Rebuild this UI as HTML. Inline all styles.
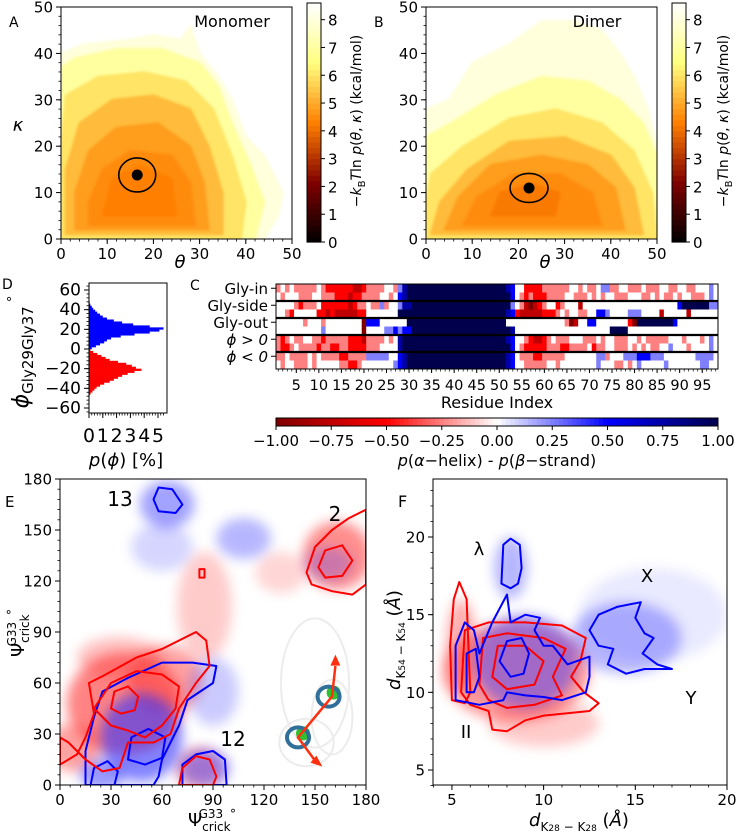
<!DOCTYPE html>
<html><head><meta charset="utf-8">
<style>
html,body{margin:0;padding:0;background:#fff;}
svg{display:block;font-family:"DejaVu Sans","Liberation Sans",sans-serif;}
</style></head>
<body>
<svg id="fig" width="739" height="833" viewBox="0 0 739 833" xmlns="http://www.w3.org/2000/svg">
<defs>
<filter id="blur6" x="-50%" y="-50%" width="200%" height="200%"><feGaussianBlur stdDeviation="6"/></filter>
<filter id="blur3" x="-50%" y="-50%" width="200%" height="200%"><feGaussianBlur stdDeviation="3"/></filter>
<filter id="blur1" x="-50%" y="-50%" width="200%" height="200%"><feGaussianBlur stdDeviation="1.2"/></filter>
<clipPath id="clipA"><rect x="61" y="7" width="231" height="232"/></clipPath>
<clipPath id="clipB"><rect x="426" y="7" width="231" height="232"/></clipPath>
<clipPath id="clipE"><rect x="60" y="479" width="306" height="306"/></clipPath>
<clipPath id="clipF"><rect x="433" y="479" width="294" height="306"/></clipPath>
</defs>
</svg>
<script>
// ---------- DATA ----------
const monoLevels=[8.0,7.0,6.0,5.3,4.8,4.5,4.3];
const monoPolys=[
 [[0,0],[44,0],[47,5],[48,10],[44,18],[40,22],[37,30],[34,35],[30,40],[28,46],[26,43],[20,44],[15,43],[5,42],[0,40]],
 [[0,0],[42,0],[44,8],[41,16],[37,25],[34,33],[30,38],[22,41],[12,41],[3,39],[0,37]],
 [[0,0],[39,0],[40,8],[37,18],[33,28],[27,34],[18,36],[8,35],[1,31],[0,20]],
 [[1,1],[35,1],[35,10],[32,20],[28,28],[20,31],[11,30],[4,25],[1,15]],
 [[3,2],[32,2],[31,12],[28,20],[21,25],[12,24],[6,19],[3,10]],
 [[6,3],[29,3],[28,12],[24,18],[15,19],[9,15],[6,8]],
 [[9,5],[25,5],[24,13],[17,16],[11,13]]
];
const monoMin=[16.5,13.8];
const dimLevels=[8.0,7.0,6.0,5.3,4.8,4.5,4.2];
const dimPolys=[
 [[0,0],[50,0],[50,20],[48,28],[45,35],[42,40],[38,45],[32,47],[25,47],[18,42],[10,38],[5,30],[0,28]],
 [[0,0],[50,0],[50,18],[47,25],[42,30],[35,34],[25,35],[15,31],[7,26],[0,22]],
 [[0,0],[50,0],[49,10],[45,19],[38,25],[28,28],[18,26],[8,20],[1,14],[0,8]],
 [[1,1],[47,1],[45,11],[40,18],[30,22],[18,21],[9,15],[3,8]],
 [[4,2],[43,2],[41,11],[35,16],[25,18],[14,16],[7,9]],
 [[8,3],[38,3],[36,10],[29,14],[19,14],[11,9]],
 [[14,5],[28,5],[29,10],[23,12],[16,10]]
];
const dimMin=[22.3,11.0];
const cbarTicks=[0,1,2,3,4,5,6,7,8];
const phiBlue=[1,3,5,7,9,11,13,15,17,19,21,23,25,27,29,31,33,35,37,39,41,43,45,47];
const pBlue=[0.2,0.5,0.8,1.1,1.3,1.6,2.3,3.3,4.4,5.1,5.4,4.4,3.2,2.4,1.8,1.3,1.0,0.8,0.6,0.45,0.3,0.2,0.1,0.05];
const phiRed=[-1,-3,-5,-7,-9,-11,-13,-15,-17,-19,-21,-23,-25,-27,-29,-31,-33,-35,-37,-39,-41,-43,-45,-47];
const pRed=[0.1,0.3,0.6,0.9,1.2,1.5,2.1,2.7,3.1,3.4,3.8,3.3,2.8,2.4,2.1,1.8,1.5,1.1,0.8,0.55,0.4,0.25,0.12,0.05];
const dYTicks=[-60,-40,-20,0,20,40,60];
const dXTicks=[0,1,2,3,4,5];
const cRowLabels=["Gly-in","Gly-side","Gly-out","\u03D5 > 0","\u03D5 < 0"];
const cRows=[
 "343433333432222221123333443"+"57"+"8888888888888888888888"+"76"+"442222333333443433455334433343334433443344454",
 "434443334433322212233334434"+"67"+"8888888888888888888888"+"86"+"432322233334433343434433344433434334344333454",
 "444432333422222212334335344"+"577"+"8888888888888888888888"+"5"+"431012344234441444444444444444444444688888855",
 "443244444221211111224444444"+"88"+"8888888888888888888888"+"76"+"211111222343443344665444455544441444441444444",
 "444444344434444444406664444"+"44"+"8888888888888888888888"+"44"+"444444444443014466444444420888888886444444444",
 "444444444454444444404444556"+"566"+"8888888888888888888888"+"7"+"444444444444444444444888844444444444444444444",
 "323433443323333322213333434"+"78"+"8888888888888888888888"+"76"+"443211234333444333434433344343333344434443454",
 "322343333233223322223334444"+"78"+"8888888888888888888888"+"86"+"432222233322333342334433343434334454443444454",
 "334333343433332233335555544"+"67"+"8888888888888888888888"+"76"+"433322333334444444553444555666555444444455554",
 "434433343444443322344444445"+"67"+"8888888888888888888888"+"76"+"443333344344444444544433434544444544444445544"
];
const cXTicks=[5,10,15,20,25,30,35,40,45,50,55,60,65,70,75,80,85,90,95];
const cCbTicks=[-1,-0.75,-0.5,-0.25,0,0.25,0.5,0.75,1];
const eRed=[
 [[0,12],[10,18],[15,28],[20,42],[17,60],[25,64],[45,75],[60,80],[70,85],[80,90],[86,85],[88,70],[80,60],[70,45],[65,30],[55,25],[40,25],[35,10],[25,8],[15,15],[5,25],[0,28]],
 [[20,45],[30,60],[45,67],[60,65],[70,58],[68,45],[60,35],[50,28],[40,32],[30,35]],
 [[30,45],[32,55],[40,58],[46,52],[44,44],[36,42]],
 [[70,0],[72,10],[80,17],[88,15],[92,5],[90,0]],
 [[145,125],[150,140],[160,150],[170,157],[180,162],[180,118],[172,112],[160,114],[148,118]],
 [[152,128],[156,138],[166,141],[172,132],[166,123],[156,122]],
 [[82,122],[82,127],[85,127],[85,122]]
];
const eBlue=[
 [[15,0],[15,20],[20,40],[25,55],[40,63],[60,72],[78,72],[92,70],[90,60],[75,50],[70,35],[65,25],[60,15],[58,5],[55,0]],
 [[40,15],[42,28],[52,33],[62,28],[60,16],[50,12]],
 [[18,0],[20,10],[28,14],[34,8],[32,0]],
 [[55,168],[58,175],[66,174],[72,165],[68,160],[58,161]],
 [[72,0],[72,12],[80,18],[90,20],[97,15],[98,0]]
];
const eRedClouds=[[38,48,34,30,0.6],[62,62,22,20,0.45],[8,22,16,14,0.45],[163,135,20,20,0.55],[85,105,16,32,0.25],[82,10,14,12,0.4],[35,75,25,12,0.3],[130,125,15,12,0.2]];
const eBlueClouds=[[48,28,24,26,0.6],[63,165,16,14,0.45],[108,145,16,12,0.35],[158,130,14,10,0.25],[85,10,15,11,0.45],[25,6,13,9,0.5],[90,55,15,20,0.25],[60,140,18,14,0.2]];
const eTicks=[0,30,60,90,120,150,180];
const fRed=[
 [[5.0,9.5],[4.9,13],[5.1,16],[5.4,17.1],[5.8,16],[5.9,13],[6.0,10],[5.7,9.3]],
 [[5.5,10],[5.7,14],[7,14.5],[9,14.5],[11,14.3],[12.3,13.5],[12,12],[11.5,11],[12.2,10],[13,9.3],[12.5,8.8],[10,8.5],[9,8.2],[8,7.5],[7.2,7.6],[7,8.8],[6,9.2]],
 [[6.5,10.5],[6.7,13.5],[8,13.8],[10,13.5],[11.2,12.8],[10.5,11],[11,9.8],[9.5,9.2],[8,9],[7,9.5]],
 [[7.2,11],[7.5,13],[9,13],[10,12],[9.5,10.5],[8,10.2]]
];
const fBlue=[
 [[7.7,17],[7.8,19.5],[8.2,19.9],[8.7,19.5],[8.8,18],[8.6,17],[8.2,16.7]],
 [[5.2,9.5],[5.2,13],[5.7,14.5],[6.2,14],[6.5,12.5],[7.2,14.5],[8.0,16.3],[8.2,14.5],[9,15],[9.8,14.8],[9.5,14],[10,13],[10.5,13],[11.3,11.8],[12.5,12.3],[12.5,11],[12.3,10],[11,9.5],[10,9.7],[9,9.8],[8,10],[7.8,9.5],[6.5,9.2]],
 [[7.6,12],[8,13.3],[8.8,13.5],[9.2,12.5],[8.9,11.2],[8.2,11]],
 [[12.5,14],[13,15],[14,15.5],[15.3,15.8],[15,14.8],[15.5,13.8],[16,13.5],[15.4,12.5],[16.2,11.8],[17,11.5],[15.5,11.5],[14.5,11.2],[13.5,11.8],[13.8,12.8],[13,13]],
 [[5.8,10],[5.8,12.5],[6.3,12.8],[6.5,11],[6.2,10]]
];
const fRedClouds=[[8.5,11.3,4,3.2,0.5],[5.5,13,0.8,3,0.4],[10,8,3,1.5,0.25]];
const fBlueClouds=[[9,12,2.8,3,0.45],[14.5,13.5,3,2.3,0.35],[8.2,18,0.9,2,0.35],[16,15,4,3,0.1]];
const fXTicks=[5,10,15,20];
const fYTicks=[5,10,15,20];

// ---------- HELPERS ----------
const NS='http://www.w3.org/2000/svg';
const svg=document.getElementById('fig');
function mk(tag,parent,name){
  const e=document.createElementNS(NS,tag);
  
  
  (parent||svg).appendChild(e);
  return e;
}
function lin(d0,d1,p0,p1){return v=>p0+(v-d0)/(d1-d0)*(p1-p0);}
function clip01(v){return Math.max(0,Math.min(1,v));}
function afmhot(t){t=clip01(t);const r=clip01(2*t),g=clip01(2*t-0.5),b=clip01(2*t-1);return `rgb(${Math.round(r*255)},${Math.round(g*255)},${Math.round(b*255)})`;}
function seismicR(v){
  const t=clip01((v+1)/2);let r,g,b;
  if(t<0.25){const s=t/0.25;r=0.5+0.5*s;g=0;b=0;}
  else if(t<0.5){const s=(t-0.25)/0.25;r=1;g=s;b=s;}
  else if(t<0.75){const s=(t-0.5)/0.25;r=1-s;g=1-s;b=1;}
  else{const s=(t-0.75)/0.25;r=0;g=0;b=1-0.7*s;}
  return `rgb(${Math.round(r*255)},${Math.round(g*255)},${Math.round(b*255)})`;
}
function text(parent,name,x,y,str,size,anchor,extra){
  const t=mk('text',parent,name);
  t.setAttribute('x',x);t.setAttribute('y',y);
  t.setAttribute('font-size',size);
  t.setAttribute('text-anchor',anchor||'middle');
  if(extra)for(const k in extra)t.setAttribute(k,extra[k]);
  t.textContent=str;return t;
}
function line(parent,name,x1,y1,x2,y2,w,col){
  const l=mk('line',parent,name);
  l.setAttribute('x1',x1);l.setAttribute('y1',y1);l.setAttribute('x2',x2);l.setAttribute('y2',y2);
  l.setAttribute('stroke',col||'#000');l.setAttribute('stroke-width',w||1);return l;
}
function frame(parent,name,x,y,w,h){
  const r=mk('rect',parent,name);
  r.setAttribute('x',x);r.setAttribute('y',y);r.setAttribute('width',w);r.setAttribute('height',h);
  r.setAttribute('fill','none');r.setAttribute('stroke','#000');r.setAttribute('stroke-width',1);return r;
}
function polyPts(poly,sx,sy){return poly.map(p=>sx(p[0]).toFixed(1)+','+sy(p[1]).toFixed(1)).join(' ');}
function xTicks(g,sx,yb,majors,minStep,d0,d1,fs){
  for(let v=d0;v<=d1+1e-9;v+=minStep){line(g,'x-minor-tick',sx(v),yb,sx(v),yb+2.5,0.8);}
  majors.forEach(v=>{line(g,'x-major-tick',sx(v),yb,sx(v),yb+5,1);text(g,'x-tick-label',sx(v),yb+20,String(v),fs||15);});
}
function yTicks(g,sy,xl,majors,minStep,d0,d1,fs,fmt){
  for(let v=d0;v<=d1+1e-9;v+=minStep){line(g,'y-minor-tick',xl,sy(v),xl-2.5,sy(v),0.8);}
  majors.forEach(v=>{line(g,'y-major-tick',xl,sy(v),xl-5,sy(v),1);text(g,'y-tick-label',xl-8,sy(v)+5.5,fmt?fmt(v):String(v).replace('-','\u2212'),fs||15,'end');});
}

// ---------- PANELS A & B ----------
function fePanel(pname,x0,label,title,levels,polys,minPt,rx,ry,cbx,cbLabelX,clip){
  const g=mk('g',null,pname);
  const sx=lin(0,50,x0,x0+231), sy=lin(0,50,239,7);
  const cg=mk('g',g,'free-energy-map');
  cg.setAttribute('clip-path',`url(#${clip})`);
  polys.forEach((p,i)=>{const pl=mk('polygon',cg,'energy-level-'+levels[i]);pl.setAttribute('points',polyPts(p,sx,sy));pl.setAttribute('fill',afmhot(levels[i]/8.6));
    pl.setAttribute('stroke',afmhot(levels[i]/8.6));pl.setAttribute('stroke-width',1.5);pl.setAttribute('stroke-linejoin','round');pl.setAttribute('filter','url(#blur1)');});
  const el=mk('ellipse',g,'minimum-ring');el.setAttribute('cx',sx(minPt[0]));el.setAttribute('cy',sy(minPt[1]));el.setAttribute('rx',rx);el.setAttribute('ry',ry);el.setAttribute('fill','none');el.setAttribute('stroke','#000');el.setAttribute('stroke-width',1.6);
  const dt=mk('circle',g,'minimum-dot');dt.setAttribute('cx',sx(minPt[0]));dt.setAttribute('cy',sy(minPt[1]));dt.setAttribute('r',5.5);dt.setAttribute('fill','#000');
  frame(g,'plot-frame',x0,7,231,232);
  xTicks(g,sx,239,[0,10,20,30,40,50],2,0,50);
  yTicks(g,sy,x0,[0,10,20,30,40,50],2,0,50);
  text(g,'panel-label',x0-52,27,label,14,'start');
  text(g,'panel-title',x0+171,27,title,16);
  text(g,'x-axis-title',x0+119,268,'\u03B8',18,'middle',{'font-style':'italic'});
  const cb=mk('g',g,'colorbar');
  const cy=lin(0,8.6,242,3);
  const n=43;
  for(let i=0;i<n;i++){const v0=i*8.6/n,v1=(i+1)*8.6/n;const r=mk('rect',cb,'colorbar-step');r.setAttribute('x',cbx);r.setAttribute('y',cy(v1));r.setAttribute('width',14);r.setAttribute('height',cy(v0)-cy(v1)+0.6);r.setAttribute('fill',afmhot((v0+v1)/2/8.6));}
  frame(cb,'colorbar-frame',cbx,3,14,239);
  cbarTicks.forEach(v=>{line(cb,'colorbar-tick',cbx+14,cy(v),cbx+18,cy(v),1);text(cb,'colorbar-tick-label',cbx+21,cy(v)+6,String(v),15,'start');});
  const t=text(cb,'colorbar-title',0,0,'',14,'middle',{transform:`translate(${cbLabelX},121) rotate(-90)`});
  t.innerHTML='\u2212<tspan font-style="italic">k</tspan><tspan font-size="10" dy="4">B</tspan><tspan dy="-4" font-style="italic">T</tspan>ln<tspan font-style="italic"> p</tspan>(<tspan font-style="italic">\u03B8</tspan>, <tspan font-style="italic">\u03BA</tspan>) (kcal/mol)';
  return g;
}
fePanel('panel-a-monomer',61,'A','Monomer',monoLevels,monoPolys,monoMin,18.5,17,307,361,'clipA');
fePanel('panel-b-dimer',426,'B','Dimer',dimLevels,dimPolys,dimMin,19,14.5,672,728,'clipB');
text(svg,'y-axis-title-kappa',18,131,'\u03BA',18,'middle',{'font-style':'italic'});

// ---------- PANEL D ----------
(function(){
  const g=mk('g',null,'panel-d-phi-histogram');
  const sx=lin(0,5,89,158), sy=lin(-60,60,408,290);
  const bw=2;
  phiBlue.forEach((c,i)=>{const r=mk('rect',g,'hist-bar-positive');r.setAttribute('x',sx(0));r.setAttribute('y',sy(c+bw/2));r.setAttribute('width',sx(pBlue[i])-sx(0));r.setAttribute('height',sy(c-bw/2)-sy(c+bw/2)+0.3);r.setAttribute('fill','#0000ff');});
  phiRed.forEach((c,i)=>{const r=mk('rect',g,'hist-bar-negative');r.setAttribute('x',sx(0));r.setAttribute('y',sy(c+bw/2));r.setAttribute('width',sx(pRed[i])-sx(0));r.setAttribute('height',sy(c-bw/2)-sy(c+bw/2)+0.3);r.setAttribute('fill','#ff0000');});
  frame(g,'plot-frame',89,283,78,130);
  for(let v=0;v<=5.6;v+=0.2){line(g,'x-minor-tick',sx(v),413,sx(v),415.5,0.8);}
  dXTicks.forEach(v=>{line(g,'x-major-tick',sx(v),413,sx(v),418,1);text(g,'x-tick-label',sx(v),442,String(v),19,'middle',{'textLength':'12','lengthAdjust':'spacingAndGlyphs'});});
  yTicks(g,sy,89,dYTicks,4,-64,64,17);
  text(g,'panel-label',2,289,'D',14,'start');
  const yl=text(g,'y-axis-title',0,0,'',18,'middle',{transform:'translate(28,352) rotate(-90)'});
  yl.innerHTML='<tspan font-style="italic" font-size="22">\u03D5</tspan><tspan font-size="15" dy="5">Gly29Gly37</tspan><tspan font-size="13" dy="-16"> \u00B0</tspan>';
  const xl=text(g,'x-axis-title',126,466,'',18);
  xl.innerHTML='<tspan font-style="italic">p</tspan>(<tspan font-style="italic">\u03D5</tspan>) [%]';
})();

// ---------- PANEL C ----------
(function(){
  const g=mk('g',null,'panel-c-secondary-structure');
  const x0=276,x1=718,y0=284,y1=369;
  const cw=(x1-x0)/98, rh=(y1-y0)/10;
  const hg=mk('g',g,'heatmap');
  cRows.forEach((row,ri)=>{
    for(let ci=0;ci<row.length&&ci<98;ci++){
      const v=(parseInt(row[ci])-4)/4;
      const r=mk('rect',hg,'heatmap-cell');
      r.setAttribute('x',(x0+ci*cw).toFixed(2));r.setAttribute('y',(y0+ri*rh).toFixed(2));
      r.setAttribute('width',(cw+0.4).toFixed(2));r.setAttribute('height',(rh+0.4).toFixed(2));
      r.setAttribute('fill',seismicR(v));
    }
  });
  for(let k=1;k<5;k++){line(g,'band-separator',x0,y0+k*2*rh,x1,y0+k*2*rh,2.2);}
  frame(g,'plot-frame',x0,y0,x1-x0,y1-y0);
  cRowLabels.forEach((s,k)=>{const yy=y0+(2*k+0.5)*rh;line(g,'y-tick',x0,yy,x0-5,yy,1);
    const t=text(g,'row-label',x0-8,yy+5.5,s,15,'end');if(k>=3)t.setAttribute('font-style','italic');});
  for(let r=1;r<=98;r++){line(g,'x-minor-tick',x0+(r-0.5)*cw,y1,x0+(r-0.5)*cw,y1+2.5,0.7);}
  cXTicks.forEach(v=>{const xx=x0+(v-0.5)*cw;line(g,'x-major-tick',xx,y1,xx,y1+4,1);text(g,'x-tick-label',xx,y1+21,String(v),14.5);});
  text(g,'x-axis-title',497,408,'Residue Index',16);
  text(g,'panel-label',190,290,'C',14,'start');
  const cb=mk('g',g,'colorbar');
  const sx=lin(-1,1,x0,x1);
  for(let i=0;i<100;i++){const v0=-1+i*0.02;const r=mk('rect',cb,'colorbar-step');r.setAttribute('x',sx(v0));r.setAttribute('y',418);r.setAttribute('width',(sx(v0+0.02)-sx(v0)+0.5).toFixed(2));r.setAttribute('height',8);r.setAttribute('fill',seismicR(v0+0.01));}
  frame(cb,'colorbar-frame',x0,418,x1-x0,8);
  cCbTicks.forEach(v=>{line(cb,'colorbar-tick',sx(v),426,sx(v),430,1);text(cb,'colorbar-tick-label',sx(v),446,v.toFixed(2).replace('-','\u2212'),15);});
  const ct=text(cb,'colorbar-title',497,466,'',16);
  ct.innerHTML='<tspan font-style="italic">p</tspan>(<tspan font-style="italic">\u03B1</tspan>\u2212helix) - <tspan font-style="italic">p</tspan>(<tspan font-style="italic">\u03B2</tspan>\u2212strand)';
})();

// ---------- PANEL E ----------
(function(){
  const g=mk('g',null,'panel-e-crick-angles');
  const sx=lin(0,180,60,366), sy=lin(0,180,785,479);
  const pg=mk('g',g,'plot-area');pg.setAttribute('clip-path','url(#clipE)');
  const ins=mk('g',pg,'structure-inset');
  [[150,60,20,38],[160,40,12,22],[145,25,16,14]].forEach(c=>{const e=mk('ellipse',ins,'ribbon-shadow');e.setAttribute('cx',sx(c[0]));e.setAttribute('cy',sy(c[1]));e.setAttribute('rx',c[2]*1.7);e.setAttribute('ry',c[3]*1.7);e.setAttribute('fill','none');e.setAttribute('stroke','#ececec');e.setAttribute('stroke-width',2);});
  eRedClouds.forEach(c=>{const e=mk('ellipse',pg,'scatter-cloud-red');e.setAttribute('cx',sx(c[0]));e.setAttribute('cy',sy(c[1]));e.setAttribute('rx',c[2]*1.7);e.setAttribute('ry',c[3]*1.7);e.setAttribute('fill','#ff3030');e.setAttribute('opacity',c[4]);e.setAttribute('filter','url(#blur6)');});
  eBlueClouds.forEach(c=>{const e=mk('ellipse',pg,'scatter-cloud-blue');e.setAttribute('cx',sx(c[0]));e.setAttribute('cy',sy(c[1]));e.setAttribute('rx',c[2]*1.7);e.setAttribute('ry',c[3]*1.7);e.setAttribute('fill','#3030ff');e.setAttribute('opacity',c[4]);e.setAttribute('filter','url(#blur6)');});
  eBlue.forEach(p=>{const pl=mk('polygon',pg,'contour-blue');pl.setAttribute('points',polyPts(p,sx,sy));pl.setAttribute('fill','none');pl.setAttribute('stroke','#0000ff');pl.setAttribute('stroke-width',2);pl.setAttribute('stroke-linejoin','round');});
  eRed.forEach(p=>{const pl=mk('polygon',pg,'contour-red');pl.setAttribute('points',polyPts(p,sx,sy));pl.setAttribute('fill','none');pl.setAttribute('stroke','#ff0000');pl.setAttribute('stroke-width',2);pl.setAttribute('stroke-linejoin','round');});
  [[158,52],[140,28]].forEach(c=>{const b=mk('circle',pg,'bead');b.setAttribute('cx',sx(c[0])+5);b.setAttribute('cy',sy(c[1])-4);b.setAttribute('r',7);b.setAttribute('fill','#30c030');
    const r=mk('ellipse',pg,'helix-ring');r.setAttribute('cx',sx(c[0]));r.setAttribute('cy',sy(c[1]));r.setAttribute('rx',11);r.setAttribute('ry',10);r.setAttribute('fill','none');r.setAttribute('stroke','#2f6f9a');r.setAttribute('stroke-width',4);});
  const arr=mk('polyline',pg,'crick-vector');arr.setAttribute('points',`${sx(151)},${sy(13)} ${sx(140)},${sy(28)} ${sx(160)},${sy(52)} ${sx(162)},${sy(70)}`);arr.setAttribute('fill','none');arr.setAttribute('stroke','#ff3010');arr.setAttribute('stroke-width',2.5);
  [[162,72,0],[152,12,1]].forEach(a=>{const p=mk('polygon',pg,'arrow-head');const X=sx(a[0]),Y=sy(a[1]);p.setAttribute('points',a[2]?`${X+4},${Y+2} ${X-8},${Y-2} ${X-2},${Y-9}`:`${X},${Y-8} ${X-5},${Y+3} ${X+5},${Y+3}`);p.setAttribute('fill','#ff3010');});
  frame(g,'plot-frame',60,479,306,306);
  xTicks(g,sx,785,eTicks,6,0,180,15);
  yTicks(g,sy,60,eTicks,6,0,180,15);
  text(g,'cluster-label-13',120,506,'13',20);
  text(g,'cluster-label-2',335,521,'2',20);
  text(g,'cluster-label-12',233,746,'12',20);
  text(g,'panel-label',5,507,'E',15,'start');
  const yl=text(g,'y-axis-title',0,0,'',18,'middle',{transform:'translate(24,633) rotate(-90)'});
  yl.innerHTML='\u03A8<tspan font-size="12" dy="5">crick</tspan><tspan font-size="12" dx="-32" dy="-13">G33</tspan><tspan font-size="12" dx="3"> \u00B0</tspan>';
  const xl=text(g,'x-axis-title',212,826,'',18);
  xl.innerHTML='\u03A8<tspan font-size="12" dy="5">crick</tspan><tspan font-size="12" dx="-32" dy="-13">G33</tspan><tspan font-size="12" dx="3"> \u00B0</tspan>';
})();

// ---------- PANEL F ----------
(function(){
  const g=mk('g',null,'panel-f-lysine-distances');
  const sx=lin(4,20,433.6,727), sy=lin(5,20,770,537);
  const pg=mk('g',g,'plot-area');pg.setAttribute('clip-path','url(#clipF)');
  fRedClouds.forEach(c=>{const e=mk('ellipse',pg,'scatter-cloud-red');e.setAttribute('cx',sx(c[0]));e.setAttribute('cy',sy(c[1]));e.setAttribute('rx',c[2]*18.4);e.setAttribute('ry',c[3]*15.5);e.setAttribute('fill','#ff3030');e.setAttribute('opacity',c[4]);e.setAttribute('filter','url(#blur6)');});
  fBlueClouds.forEach(c=>{const e=mk('ellipse',pg,'scatter-cloud-blue');e.setAttribute('cx',sx(c[0]));e.setAttribute('cy',sy(c[1]));e.setAttribute('rx',c[2]*18.4);e.setAttribute('ry',c[3]*15.5);e.setAttribute('fill','#3030ff');e.setAttribute('opacity',c[4]);e.setAttribute('filter','url(#blur6)');});
  fRed.forEach(p=>{const pl=mk('polygon',pg,'contour-red');pl.setAttribute('points',polyPts(p,sx,sy));pl.setAttribute('fill','none');pl.setAttribute('stroke','#ff0000');pl.setAttribute('stroke-width',2);pl.setAttribute('stroke-linejoin','round');});
  fBlue.forEach(p=>{const pl=mk('polygon',pg,'contour-blue');pl.setAttribute('points',polyPts(p,sx,sy));pl.setAttribute('fill','none');pl.setAttribute('stroke','#0000ff');pl.setAttribute('stroke-width',2);pl.setAttribute('stroke-linejoin','round');});
  frame(g,'plot-frame',433,479,294,306);
  xTicks(g,sx,785,fXTicks,1,4,20,15);
  yTicks(g,sy,433,fYTicks,1,4,23,15);
  text(g,'panel-label',398,507,'F',16,'start');
  text(g,'state-label-lambda',479,555,'\u03BB',18);
  text(g,'state-label-x',647,582,'X',18);
  text(g,'state-label-y',691,704,'Y',18);
  text(g,'state-label-ii',466,738,'II',18);
  const yl=text(g,'y-axis-title',0,0,'',18,'middle',{transform:'translate(400,640) rotate(-90)'});
  yl.innerHTML='<tspan font-style="italic">d</tspan><tspan font-size="12" dy="5">K<tspan font-size="9">54</tspan> \u2212 K<tspan font-size="9">54</tspan></tspan><tspan dy="-5"> (<tspan font-style="italic">\u00C5</tspan>)</tspan>';
  const xl=text(g,'x-axis-title',579,826,'',18);
  xl.innerHTML='<tspan font-style="italic">d</tspan><tspan font-size="12" dy="5">K<tspan font-size="9">28</tspan> \u2212 K<tspan font-size="9">28</tspan></tspan><tspan dy="-5"> (<tspan font-style="italic">\u00C5</tspan>)</tspan>';
})();
</script>
</body></html>
